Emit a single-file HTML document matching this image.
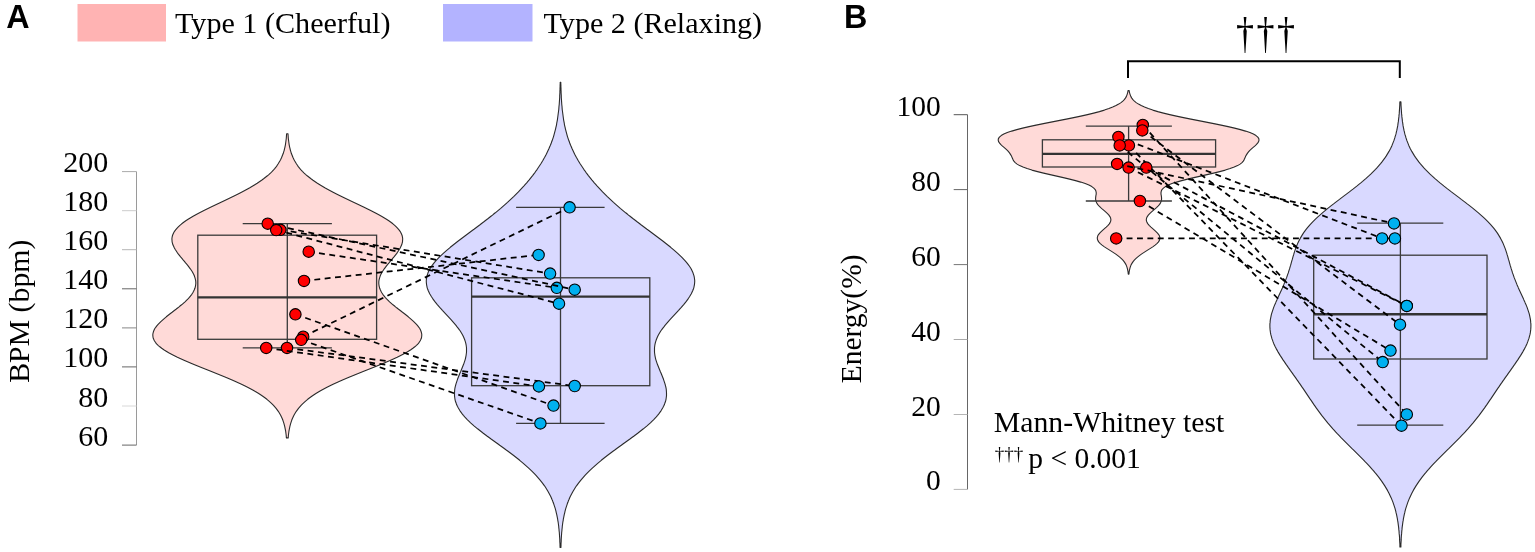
<!DOCTYPE html>
<html><head><meta charset="utf-8"><title>Figure</title>
<style>
html,body{margin:0;padding:0;background:#fff;}
svg{display:block;}
text{font-family:"Liberation Serif",serif;fill:#000;}
.b{font-family:"Liberation Sans",sans-serif;font-weight:bold;}
</style></head><body>
<svg width="1535" height="552" viewBox="0 0 1535 552">
<rect width="1535" height="552" fill="#fff"/>
<text class="b" x="6.3" y="28.4" font-size="32.3">A</text>
<text class="b" x="844" y="28.3" font-size="32.3">B</text>
<rect x="77.5" y="4" width="88.5" height="37.5" fill="#ffb3b3"/>
<rect x="443" y="4" width="89.5" height="37.5" fill="#b3b3ff"/>
<text x="175" y="33" font-size="30.15">Type 1 (Cheerful)</text>
<text x="543.6" y="33" font-size="30.1">Type 2 (Relaxing)</text>
<g stroke="#9a9a9a" stroke-width="1" fill="none">
<path d="M136.5 171.6 V445.1"/>
<path d="M122 171.6 H136.5" stroke="#aaa"/>
<path d="M122 210.7 H136.5" stroke="#ccc"/>
<path d="M122 249.7 H136.5" stroke="#b5b5b5"/>
<path d="M122 288.8 H136.5" stroke="#666"/>
<path d="M122 327.9 H136.5" stroke="#888"/>
<path d="M122 366.9 H136.5" stroke="#666"/>
<path d="M122 406.0 H136.5" stroke="#d8d8d8"/>
<path d="M122 445.1 H136.5" stroke="#666"/>
</g>
<text x="108.2" y="172.1" font-size="30" text-anchor="end">200</text>
<text x="108.2" y="211.2" font-size="30" text-anchor="end">180</text>
<text x="108.2" y="250.2" font-size="30" text-anchor="end">160</text>
<text x="108.2" y="289.3" font-size="30" text-anchor="end">140</text>
<text x="108.2" y="328.4" font-size="30" text-anchor="end">120</text>
<text x="108.2" y="367.4" font-size="30" text-anchor="end">100</text>
<text x="108.2" y="406.5" font-size="30" text-anchor="end">80</text>
<text x="108.2" y="445.6" font-size="30" text-anchor="end">60</text>
<text transform="translate(29.2 311.2) rotate(-90)" font-size="29.8" text-anchor="middle">BPM (bpm)</text>
<g stroke="#666" stroke-width="1" fill="none">
<path d="M967.5 114.7 V489.4"/>
<path d="M953.7 114.7 H967.5" stroke="#555"/>
<path d="M953.7 189.6 H967.5" stroke="#666"/>
<path d="M953.7 264.6 H967.5" stroke="#777"/>
<path d="M953.7 339.5 H967.5" stroke="#aaa"/>
<path d="M953.7 414.5 H967.5" stroke="#b5b5b5"/>
<path d="M953.7 489.4 H967.5" stroke="#b5b5b5"/>
</g>
<text x="940.8" y="115.7" font-size="29.5" text-anchor="end">100</text>
<text x="940.8" y="190.6" font-size="29.5" text-anchor="end">80</text>
<text x="940.8" y="265.6" font-size="29.5" text-anchor="end">60</text>
<text x="940.8" y="340.5" font-size="29.5" text-anchor="end">40</text>
<text x="940.8" y="415.5" font-size="29.5" text-anchor="end">20</text>
<text x="940.8" y="490.4" font-size="29.5" text-anchor="end">0</text>
<text transform="translate(860.6 383.3) rotate(-90)" font-size="29.5">Energy(%)</text>
<path d="M286.6 133.8 L286.5 135.3 L286.4 136.8 L286.3 138.3 L286.1 139.8 L285.9 141.3 L285.7 142.8 L285.5 144.3 L285.2 145.8 L284.9 147.3 L284.5 148.8 L284.2 150.3 L283.7 151.8 L283.3 153.3 L282.7 154.8 L282.1 156.3 L281.5 157.8 L280.8 159.3 L280.0 160.8 L279.1 162.3 L278.2 163.8 L277.2 165.3 L276.1 166.8 L274.9 168.3 L273.6 169.8 L272.2 171.3 L270.7 172.8 L269.1 174.3 L267.4 175.8 L265.5 177.3 L263.6 178.8 L261.6 180.3 L259.4 181.8 L257.2 183.3 L254.8 184.8 L252.3 186.3 L249.8 187.8 L247.1 189.3 L244.3 190.8 L241.5 192.3 L238.6 193.8 L235.6 195.3 L232.5 196.8 L229.4 198.3 L226.3 199.8 L223.2 201.3 L220.0 202.8 L216.8 204.3 L213.7 205.8 L210.5 207.3 L207.5 208.8 L204.4 210.3 L201.5 211.8 L198.6 213.3 L195.8 214.8 L193.1 216.3 L190.6 217.8 L188.1 219.3 L185.8 220.8 L183.7 222.3 L181.7 223.8 L179.9 225.3 L178.3 226.8 L176.9 228.3 L175.6 229.8 L174.5 231.3 L173.7 232.8 L173.0 234.3 L172.4 235.8 L172.1 237.3 L171.9 238.8 L172.0 240.3 L172.1 241.8 L172.5 243.3 L172.9 244.8 L173.6 246.3 L174.3 247.8 L175.1 249.3 L176.1 250.8 L177.1 252.3 L178.2 253.8 L179.4 255.3 L180.6 256.8 L181.9 258.3 L183.1 259.8 L184.4 261.3 L185.6 262.8 L186.9 264.3 L188.1 265.8 L189.2 267.3 L190.3 268.8 L191.3 270.3 L192.3 271.8 L193.1 273.3 L193.9 274.8 L194.5 276.3 L195.0 277.8 L195.4 279.3 L195.7 280.8 L195.8 282.3 L195.8 283.8 L195.6 285.3 L195.3 286.8 L194.9 288.3 L194.3 289.8 L193.6 291.3 L192.8 292.8 L191.8 294.3 L190.6 295.8 L189.4 297.3 L188.0 298.8 L186.5 300.3 L185.0 301.8 L183.3 303.3 L181.6 304.8 L179.7 306.3 L177.9 307.8 L176.0 309.3 L174.0 310.8 L172.1 312.3 L170.1 313.8 L168.2 315.3 L166.3 316.8 L164.5 318.3 L162.8 319.8 L161.1 321.3 L159.6 322.8 L158.1 324.3 L156.8 325.8 L155.7 327.3 L154.7 328.8 L154.0 330.3 L153.4 331.8 L153.0 333.3 L152.8 334.8 L152.9 336.3 L153.1 337.8 L153.7 339.3 L154.4 340.8 L155.4 342.3 L156.6 343.8 L158.1 345.3 L159.8 346.8 L161.7 348.3 L163.8 349.8 L166.2 351.3 L168.7 352.8 L171.5 354.3 L174.4 355.8 L177.4 357.3 L180.7 358.8 L184.0 360.3 L187.5 361.8 L191.0 363.3 L194.6 364.8 L198.3 366.3 L202.0 367.8 L205.8 369.3 L209.6 370.8 L213.3 372.3 L217.0 373.8 L220.7 375.3 L224.4 376.8 L228.0 378.3 L231.5 379.8 L234.9 381.3 L238.2 382.8 L241.5 384.3 L244.6 385.8 L247.6 387.3 L250.4 388.8 L253.2 390.3 L255.8 391.8 L258.3 393.3 L260.6 394.8 L262.8 396.3 L264.9 397.8 L266.9 399.3 L268.7 400.8 L270.4 402.3 L272.0 403.8 L273.5 405.3 L274.8 406.8 L276.1 408.3 L277.2 409.8 L278.3 411.3 L279.2 412.8 L280.1 414.3 L280.9 415.8 L281.6 417.3 L282.3 418.8 L282.9 420.3 L283.4 421.8 L283.9 423.3 L284.3 424.8 L284.7 426.3 L285.0 427.8 L285.3 429.3 L285.6 430.8 L285.8 432.3 L286.0 433.8 L286.2 435.3 L286.3 436.8 L286.4 437.9 L288.2 437.9 L288.3 436.8 L288.4 435.3 L288.6 433.8 L288.8 432.3 L289.0 430.8 L289.3 429.3 L289.6 427.8 L289.9 426.3 L290.3 424.8 L290.7 423.3 L291.2 421.8 L291.7 420.3 L292.3 418.8 L293.0 417.3 L293.7 415.8 L294.5 414.3 L295.4 412.8 L296.3 411.3 L297.4 409.8 L298.5 408.3 L299.8 406.8 L301.1 405.3 L302.6 403.8 L304.2 402.3 L305.9 400.8 L307.7 399.3 L309.7 397.8 L311.8 396.3 L314.0 394.8 L316.3 393.3 L318.8 391.8 L321.4 390.3 L324.2 388.8 L327.0 387.3 L330.0 385.8 L333.1 384.3 L336.4 382.8 L339.7 381.3 L343.1 379.8 L346.6 378.3 L350.2 376.8 L353.9 375.3 L357.6 373.8 L361.3 372.3 L365.0 370.8 L368.8 369.3 L372.6 367.8 L376.3 366.3 L380.0 364.8 L383.6 363.3 L387.1 361.8 L390.6 360.3 L393.9 358.8 L397.2 357.3 L400.2 355.8 L403.1 354.3 L405.9 352.8 L408.4 351.3 L410.8 349.8 L412.9 348.3 L414.8 346.8 L416.5 345.3 L418.0 343.8 L419.2 342.3 L420.2 340.8 L420.9 339.3 L421.5 337.8 L421.7 336.3 L421.8 334.8 L421.6 333.3 L421.2 331.8 L420.6 330.3 L419.9 328.8 L418.9 327.3 L417.8 325.8 L416.5 324.3 L415.0 322.8 L413.5 321.3 L411.8 319.8 L410.1 318.3 L408.3 316.8 L406.4 315.3 L404.5 313.8 L402.5 312.3 L400.6 310.8 L398.6 309.3 L396.7 307.8 L394.9 306.3 L393.0 304.8 L391.3 303.3 L389.6 301.8 L388.1 300.3 L386.6 298.8 L385.2 297.3 L384.0 295.8 L382.8 294.3 L381.8 292.8 L381.0 291.3 L380.3 289.8 L379.7 288.3 L379.3 286.8 L379.0 285.3 L378.8 283.8 L378.8 282.3 L378.9 280.8 L379.2 279.3 L379.6 277.8 L380.1 276.3 L380.7 274.8 L381.5 273.3 L382.3 271.8 L383.3 270.3 L384.3 268.8 L385.4 267.3 L386.5 265.8 L387.7 264.3 L389.0 262.8 L390.2 261.3 L391.5 259.8 L392.7 258.3 L394.0 256.8 L395.2 255.3 L396.4 253.8 L397.5 252.3 L398.5 250.8 L399.5 249.3 L400.3 247.8 L401.0 246.3 L401.7 244.8 L402.1 243.3 L402.5 241.8 L402.6 240.3 L402.7 238.8 L402.5 237.3 L402.2 235.8 L401.6 234.3 L400.9 232.8 L400.1 231.3 L399.0 229.8 L397.7 228.3 L396.3 226.8 L394.7 225.3 L392.9 223.8 L390.9 222.3 L388.8 220.8 L386.5 219.3 L384.0 217.8 L381.5 216.3 L378.8 214.8 L376.0 213.3 L373.1 211.8 L370.2 210.3 L367.1 208.8 L364.1 207.3 L360.9 205.8 L357.8 204.3 L354.6 202.8 L351.4 201.3 L348.3 199.8 L345.2 198.3 L342.1 196.8 L339.0 195.3 L336.0 193.8 L333.1 192.3 L330.3 190.8 L327.5 189.3 L324.8 187.8 L322.3 186.3 L319.8 184.8 L317.4 183.3 L315.2 181.8 L313.0 180.3 L311.0 178.8 L309.1 177.3 L307.2 175.8 L305.5 174.3 L303.9 172.8 L302.4 171.3 L301.0 169.8 L299.7 168.3 L298.5 166.8 L297.4 165.3 L296.4 163.8 L295.5 162.3 L294.6 160.8 L293.8 159.3 L293.1 157.8 L292.5 156.3 L291.9 154.8 L291.3 153.3 L290.9 151.8 L290.4 150.3 L290.1 148.8 L289.7 147.3 L289.4 145.8 L289.1 144.3 L288.9 142.8 L288.7 141.3 L288.5 139.8 L288.3 138.3 L288.2 136.8 L288.1 135.3 L288.0 133.8Z" fill="#ffdad8" stroke="#2b2b2b" stroke-width="1.1" stroke-linejoin="round"/>
<path d="M560.2 82.3 L560.2 83.8 L560.1 85.3 L560.1 86.8 L560.0 88.3 L560.0 89.8 L559.9 91.3 L559.9 92.8 L559.8 94.3 L559.7 95.8 L559.7 97.3 L559.6 98.8 L559.5 100.3 L559.4 101.8 L559.3 103.3 L559.2 104.8 L559.0 106.3 L558.9 107.8 L558.8 109.3 L558.6 110.8 L558.4 112.3 L558.2 113.8 L558.0 115.3 L557.8 116.8 L557.6 118.3 L557.4 119.8 L557.1 121.3 L556.8 122.8 L556.6 124.3 L556.3 125.8 L555.9 127.3 L555.6 128.8 L555.2 130.3 L554.8 131.8 L554.4 133.3 L554.0 134.8 L553.6 136.3 L553.1 137.8 L552.6 139.3 L552.1 140.8 L551.5 142.3 L551.0 143.8 L550.4 145.3 L549.7 146.8 L549.1 148.3 L548.4 149.8 L547.7 151.3 L547.0 152.8 L546.3 154.3 L545.5 155.8 L544.7 157.3 L543.8 158.8 L543.0 160.3 L542.1 161.8 L541.2 163.3 L540.2 164.8 L539.2 166.3 L538.2 167.8 L537.2 169.3 L536.1 170.8 L535.1 172.3 L533.9 173.8 L532.8 175.3 L531.6 176.8 L530.4 178.3 L529.2 179.8 L527.9 181.3 L526.7 182.8 L525.3 184.3 L524.0 185.8 L522.6 187.3 L521.2 188.8 L519.8 190.3 L518.4 191.8 L516.9 193.3 L515.4 194.8 L513.9 196.3 L512.3 197.8 L510.7 199.3 L509.1 200.8 L507.5 202.3 L505.8 203.8 L504.1 205.3 L502.4 206.8 L500.7 208.3 L498.9 209.8 L497.1 211.3 L495.3 212.8 L493.4 214.3 L491.6 215.8 L489.7 217.3 L487.8 218.8 L485.8 220.3 L483.9 221.8 L481.9 223.3 L480.0 224.8 L478.0 226.3 L476.0 227.8 L474.0 229.3 L471.9 230.8 L469.9 232.3 L467.9 233.8 L465.9 235.3 L463.9 236.8 L461.9 238.3 L459.9 239.8 L457.9 241.3 L456.0 242.8 L454.1 244.3 L452.2 245.8 L450.3 247.3 L448.5 248.8 L446.7 250.3 L445.0 251.8 L443.3 253.3 L441.7 254.8 L440.1 256.3 L438.6 257.8 L437.2 259.3 L435.8 260.8 L434.5 262.3 L433.3 263.8 L432.2 265.3 L431.2 266.8 L430.2 268.3 L429.4 269.8 L428.7 271.3 L428.0 272.8 L427.5 274.3 L427.0 275.8 L426.7 277.3 L426.5 278.8 L426.3 280.3 L426.3 281.8 L426.4 283.3 L426.6 284.8 L426.9 286.3 L427.2 287.8 L427.7 289.3 L428.3 290.8 L429.0 292.3 L429.7 293.8 L430.6 295.3 L431.5 296.8 L432.5 298.3 L433.6 299.8 L434.7 301.3 L435.9 302.8 L437.1 304.3 L438.4 305.8 L439.7 307.3 L441.1 308.8 L442.4 310.3 L443.8 311.8 L445.2 313.3 L446.6 314.8 L448.0 316.3 L449.4 317.8 L450.8 319.3 L452.1 320.8 L453.4 322.3 L454.7 323.8 L456.0 325.3 L457.1 326.8 L458.3 328.3 L459.4 329.8 L460.4 331.3 L461.3 332.8 L462.2 334.3 L463.0 335.8 L463.7 337.3 L464.3 338.8 L464.9 340.3 L465.4 341.8 L465.8 343.3 L466.1 344.8 L466.3 346.3 L466.5 347.8 L466.5 349.3 L466.5 350.8 L466.5 352.3 L466.3 353.8 L466.1 355.3 L465.8 356.8 L465.5 358.3 L465.1 359.8 L464.6 361.3 L464.1 362.8 L463.6 364.3 L463.0 365.8 L462.4 367.3 L461.8 368.8 L461.2 370.3 L460.6 371.8 L459.9 373.3 L459.3 374.8 L458.7 376.3 L458.1 377.8 L457.5 379.3 L457.0 380.8 L456.5 382.3 L456.0 383.8 L455.6 385.3 L455.2 386.8 L454.9 388.3 L454.7 389.8 L454.6 391.3 L454.5 392.8 L454.5 394.3 L454.5 395.8 L454.7 397.3 L454.9 398.8 L455.2 400.3 L455.6 401.8 L456.2 403.3 L456.7 404.8 L457.4 406.3 L458.2 407.8 L459.1 409.3 L460.0 410.8 L461.1 412.3 L462.2 413.8 L463.4 415.3 L464.7 416.8 L466.1 418.3 L467.5 419.8 L469.1 421.3 L470.6 422.8 L472.3 424.3 L474.0 425.8 L475.8 427.3 L477.6 428.8 L479.5 430.3 L481.4 431.8 L483.3 433.3 L485.3 434.8 L487.3 436.3 L489.4 437.8 L491.4 439.3 L493.5 440.8 L495.6 442.3 L497.7 443.8 L499.7 445.3 L501.8 446.8 L503.9 448.3 L505.9 449.8 L508.0 451.3 L510.0 452.8 L512.0 454.3 L514.0 455.8 L515.9 457.3 L517.8 458.8 L519.7 460.3 L521.5 461.8 L523.3 463.3 L525.0 464.8 L526.7 466.3 L528.4 467.8 L530.0 469.3 L531.6 470.8 L533.1 472.3 L534.6 473.8 L536.0 475.3 L537.3 476.8 L538.6 478.3 L539.9 479.8 L541.1 481.3 L542.3 482.8 L543.4 484.3 L544.5 485.8 L545.5 487.3 L546.4 488.8 L547.3 490.3 L548.2 491.8 L549.0 493.3 L549.8 494.8 L550.6 496.3 L551.3 497.8 L551.9 499.3 L552.6 500.8 L553.1 502.3 L553.7 503.8 L554.2 505.3 L554.7 506.8 L555.2 508.3 L555.6 509.8 L556.0 511.3 L556.3 512.8 L556.7 514.3 L557.0 515.8 L557.3 517.3 L557.6 518.8 L557.8 520.3 L558.1 521.8 L558.3 523.3 L558.5 524.8 L558.7 526.3 L558.8 527.8 L559.0 529.3 L559.1 530.8 L559.3 532.3 L559.4 533.8 L559.5 535.3 L559.6 536.8 L559.7 538.3 L559.8 539.8 L559.8 541.3 L559.9 542.8 L560.0 544.3 L560.0 545.8 L560.1 547.3 L560.1 547.5 L560.9 547.5 L560.9 547.3 L561.0 545.8 L561.0 544.3 L561.1 542.8 L561.2 541.3 L561.2 539.8 L561.3 538.3 L561.4 536.8 L561.5 535.3 L561.6 533.8 L561.7 532.3 L561.9 530.8 L562.0 529.3 L562.2 527.8 L562.3 526.3 L562.5 524.8 L562.7 523.3 L562.9 521.8 L563.2 520.3 L563.4 518.8 L563.7 517.3 L564.0 515.8 L564.3 514.3 L564.7 512.8 L565.0 511.3 L565.4 509.8 L565.8 508.3 L566.3 506.8 L566.8 505.3 L567.3 503.8 L567.9 502.3 L568.4 500.8 L569.1 499.3 L569.7 497.8 L570.4 496.3 L571.2 494.8 L572.0 493.3 L572.8 491.8 L573.7 490.3 L574.6 488.8 L575.5 487.3 L576.5 485.8 L577.6 484.3 L578.7 482.8 L579.9 481.3 L581.1 479.8 L582.4 478.3 L583.7 476.8 L585.0 475.3 L586.4 473.8 L587.9 472.3 L589.4 470.8 L591.0 469.3 L592.6 467.8 L594.3 466.3 L596.0 464.8 L597.7 463.3 L599.5 461.8 L601.3 460.3 L603.2 458.8 L605.1 457.3 L607.0 455.8 L609.0 454.3 L611.0 452.8 L613.0 451.3 L615.1 449.8 L617.1 448.3 L619.2 446.8 L621.3 445.3 L623.3 443.8 L625.4 442.3 L627.5 440.8 L629.6 439.3 L631.6 437.8 L633.7 436.3 L635.7 434.8 L637.7 433.3 L639.6 431.8 L641.5 430.3 L643.4 428.8 L645.2 427.3 L647.0 425.8 L648.7 424.3 L650.4 422.8 L651.9 421.3 L653.5 419.8 L654.9 418.3 L656.3 416.8 L657.6 415.3 L658.8 413.8 L659.9 412.3 L661.0 410.8 L661.9 409.3 L662.8 407.8 L663.6 406.3 L664.3 404.8 L664.8 403.3 L665.4 401.8 L665.8 400.3 L666.1 398.8 L666.3 397.3 L666.5 395.8 L666.5 394.3 L666.5 392.8 L666.4 391.3 L666.3 389.8 L666.1 388.3 L665.8 386.8 L665.4 385.3 L665.0 383.8 L664.5 382.3 L664.0 380.8 L663.5 379.3 L662.9 377.8 L662.3 376.3 L661.7 374.8 L661.1 373.3 L660.4 371.8 L659.8 370.3 L659.2 368.8 L658.6 367.3 L658.0 365.8 L657.4 364.3 L656.9 362.8 L656.4 361.3 L655.9 359.8 L655.5 358.3 L655.2 356.8 L654.9 355.3 L654.7 353.8 L654.5 352.3 L654.5 350.8 L654.5 349.3 L654.5 347.8 L654.7 346.3 L654.9 344.8 L655.2 343.3 L655.6 341.8 L656.1 340.3 L656.7 338.8 L657.3 337.3 L658.0 335.8 L658.8 334.3 L659.7 332.8 L660.6 331.3 L661.6 329.8 L662.7 328.3 L663.9 326.8 L665.0 325.3 L666.3 323.8 L667.6 322.3 L668.9 320.8 L670.2 319.3 L671.6 317.8 L673.0 316.3 L674.4 314.8 L675.8 313.3 L677.2 311.8 L678.6 310.3 L679.9 308.8 L681.3 307.3 L682.6 305.8 L683.9 304.3 L685.1 302.8 L686.3 301.3 L687.4 299.8 L688.5 298.3 L689.5 296.8 L690.4 295.3 L691.3 293.8 L692.0 292.3 L692.7 290.8 L693.3 289.3 L693.8 287.8 L694.1 286.3 L694.4 284.8 L694.6 283.3 L694.7 281.8 L694.7 280.3 L694.5 278.8 L694.3 277.3 L694.0 275.8 L693.5 274.3 L693.0 272.8 L692.3 271.3 L691.6 269.8 L690.8 268.3 L689.8 266.8 L688.8 265.3 L687.7 263.8 L686.5 262.3 L685.2 260.8 L683.8 259.3 L682.4 257.8 L680.9 256.3 L679.3 254.8 L677.7 253.3 L676.0 251.8 L674.3 250.3 L672.5 248.8 L670.7 247.3 L668.8 245.8 L666.9 244.3 L665.0 242.8 L663.1 241.3 L661.1 239.8 L659.1 238.3 L657.1 236.8 L655.1 235.3 L653.1 233.8 L651.1 232.3 L649.1 230.8 L647.0 229.3 L645.0 227.8 L643.0 226.3 L641.0 224.8 L639.1 223.3 L637.1 221.8 L635.2 220.3 L633.2 218.8 L631.3 217.3 L629.4 215.8 L627.6 214.3 L625.7 212.8 L623.9 211.3 L622.1 209.8 L620.3 208.3 L618.6 206.8 L616.9 205.3 L615.2 203.8 L613.5 202.3 L611.9 200.8 L610.3 199.3 L608.7 197.8 L607.1 196.3 L605.6 194.8 L604.1 193.3 L602.6 191.8 L601.2 190.3 L599.8 188.8 L598.4 187.3 L597.0 185.8 L595.7 184.3 L594.3 182.8 L593.1 181.3 L591.8 179.8 L590.6 178.3 L589.4 176.8 L588.2 175.3 L587.1 173.8 L585.9 172.3 L584.9 170.8 L583.8 169.3 L582.8 167.8 L581.8 166.3 L580.8 164.8 L579.8 163.3 L578.9 161.8 L578.0 160.3 L577.2 158.8 L576.3 157.3 L575.5 155.8 L574.7 154.3 L574.0 152.8 L573.3 151.3 L572.6 149.8 L571.9 148.3 L571.3 146.8 L570.6 145.3 L570.0 143.8 L569.5 142.3 L568.9 140.8 L568.4 139.3 L567.9 137.8 L567.4 136.3 L567.0 134.8 L566.6 133.3 L566.2 131.8 L565.8 130.3 L565.4 128.8 L565.1 127.3 L564.7 125.8 L564.4 124.3 L564.2 122.8 L563.9 121.3 L563.6 119.8 L563.4 118.3 L563.2 116.8 L563.0 115.3 L562.8 113.8 L562.6 112.3 L562.4 110.8 L562.2 109.3 L562.1 107.8 L562.0 106.3 L561.8 104.8 L561.7 103.3 L561.6 101.8 L561.5 100.3 L561.4 98.8 L561.3 97.3 L561.3 95.8 L561.2 94.3 L561.1 92.8 L561.1 91.3 L561.0 89.8 L561.0 88.3 L560.9 86.8 L560.9 85.3 L560.8 83.8 L560.8 82.3Z" fill="#d9d9ff" stroke="#2b2b2b" stroke-width="1.1" stroke-linejoin="round"/>
<g stroke="#3a3a3a" stroke-width="1.3" fill="none"><rect x="197.8" y="235.2" width="178.8" height="104.1"/><path d="M287.3 223.7 V347.9 M242.7 223.7 H331.9 M242.7 347.9 H331.9"/><path d="M197.8 297.4 H376.6" stroke-width="2.4" stroke="#333"/></g>
<g stroke="#3a3a3a" stroke-width="1.3" fill="none"><rect x="471.6" y="277.8" width="178.2" height="107.9"/><path d="M560.5 207.3 V423.4 M516.1 207.3 H604.6 M516.1 423.4 H604.6"/><path d="M471.6 296.6 H649.8" stroke-width="2.4" stroke="#333"/></g>
<path d="M308.7 251.7 L556.8 287.8" stroke="#000" stroke-width="1.75" stroke-dasharray="5.9 4.5" fill="none"/>
<circle cx="308.7" cy="251.7" r="5.7" fill="#ff0000" stroke="#000" stroke-width="1.1"/>
<circle cx="556.8" cy="287.8" r="5.7" fill="#00b0f0" stroke="#000" stroke-width="1.1"/>
<path d="M267.7 223.7 L574.7 289.7" stroke="#000" stroke-width="1.75" stroke-dasharray="5.9 4.5" fill="none"/>
<circle cx="267.7" cy="223.7" r="5.7" fill="#ff0000" stroke="#000" stroke-width="1.1"/>
<circle cx="574.7" cy="289.7" r="5.7" fill="#00b0f0" stroke="#000" stroke-width="1.1"/>
<path d="M280.4 229.8 L550.1 273.6" stroke="#000" stroke-width="1.75" stroke-dasharray="5.9 4.5" fill="none"/>
<circle cx="280.4" cy="229.8" r="5.7" fill="#ff0000" stroke="#000" stroke-width="1.1"/>
<circle cx="550.1" cy="273.6" r="5.7" fill="#00b0f0" stroke="#000" stroke-width="1.1"/>
<path d="M276.2 230.1 L559.0 303.7" stroke="#000" stroke-width="1.75" stroke-dasharray="5.9 4.5" fill="none"/>
<circle cx="276.2" cy="230.1" r="5.7" fill="#ff0000" stroke="#000" stroke-width="1.1"/>
<circle cx="559.0" cy="303.7" r="5.7" fill="#00b0f0" stroke="#000" stroke-width="1.1"/>
<path d="M304.0 280.9 L538.6 254.9" stroke="#000" stroke-width="1.75" stroke-dasharray="5.9 4.5" fill="none"/>
<circle cx="304.0" cy="280.9" r="5.7" fill="#ff0000" stroke="#000" stroke-width="1.1"/>
<circle cx="538.6" cy="254.9" r="5.7" fill="#00b0f0" stroke="#000" stroke-width="1.1"/>
<path d="M295.4 314.3 L553.5 405.6" stroke="#000" stroke-width="1.75" stroke-dasharray="5.9 4.5" fill="none"/>
<circle cx="295.4" cy="314.3" r="5.7" fill="#ff0000" stroke="#000" stroke-width="1.1"/>
<circle cx="553.5" cy="405.6" r="5.7" fill="#00b0f0" stroke="#000" stroke-width="1.1"/>
<path d="M303.2 336.7 L569.6 207.3" stroke="#000" stroke-width="1.75" stroke-dasharray="5.9 4.5" fill="none"/>
<circle cx="303.2" cy="336.7" r="5.7" fill="#ff0000" stroke="#000" stroke-width="1.1"/>
<circle cx="569.6" cy="207.3" r="5.7" fill="#00b0f0" stroke="#000" stroke-width="1.1"/>
<path d="M301.2 339.8 L540.4 423.4" stroke="#000" stroke-width="1.75" stroke-dasharray="5.9 4.5" fill="none"/>
<circle cx="301.2" cy="339.8" r="5.7" fill="#ff0000" stroke="#000" stroke-width="1.1"/>
<circle cx="540.4" cy="423.4" r="5.7" fill="#00b0f0" stroke="#000" stroke-width="1.1"/>
<path d="M287.0 347.9 L574.7 386.0" stroke="#000" stroke-width="1.75" stroke-dasharray="5.9 4.5" fill="none"/>
<circle cx="287.0" cy="347.9" r="5.7" fill="#ff0000" stroke="#000" stroke-width="1.1"/>
<circle cx="574.7" cy="386.0" r="5.7" fill="#00b0f0" stroke="#000" stroke-width="1.1"/>
<path d="M266.2 347.9 L538.9 386.4" stroke="#000" stroke-width="1.75" stroke-dasharray="5.9 4.5" fill="none"/>
<circle cx="266.2" cy="347.9" r="5.7" fill="#ff0000" stroke="#000" stroke-width="1.1"/>
<circle cx="538.9" cy="386.4" r="5.7" fill="#00b0f0" stroke="#000" stroke-width="1.1"/>
<path d="M1128.0 90.6 L1127.8 92.1 L1127.4 93.6 L1126.9 95.1 L1126.3 96.6 L1125.4 98.1 L1124.3 99.6 L1122.8 101.1 L1121.0 102.6 L1118.7 104.1 L1116.0 105.6 L1112.7 107.1 L1108.9 108.6 L1104.4 110.1 L1099.4 111.6 L1093.7 113.1 L1087.5 114.6 L1080.8 116.1 L1073.7 117.6 L1066.3 119.1 L1058.6 120.6 L1051.0 122.1 L1043.4 123.6 L1036.1 125.1 L1029.1 126.6 L1022.6 128.1 L1016.8 129.6 L1011.7 131.1 L1007.3 132.6 L1003.8 134.1 L1001.2 135.6 L999.4 137.1 L998.4 138.6 L998.2 140.1 L998.6 141.6 L999.6 143.1 L1000.9 144.6 L1002.5 146.1 L1004.3 147.6 L1006.0 149.1 L1007.6 150.6 L1008.9 152.1 L1010.0 153.6 L1010.9 155.1 L1011.7 156.6 L1012.3 158.1 L1013.0 159.6 L1013.9 161.1 L1015.2 162.6 L1017.1 164.1 L1019.6 165.6 L1023.0 167.1 L1027.1 168.6 L1031.9 170.1 L1037.5 171.6 L1043.6 173.1 L1050.1 174.6 L1056.7 176.1 L1063.3 177.6 L1069.6 179.1 L1075.5 180.6 L1080.7 182.1 L1085.2 183.6 L1088.9 185.1 L1091.8 186.6 L1093.8 188.1 L1095.2 189.6 L1095.9 191.1 L1096.2 192.6 L1096.2 194.1 L1095.9 195.6 L1095.7 197.1 L1095.6 198.6 L1095.7 200.1 L1096.1 201.6 L1096.8 203.1 L1097.8 204.6 L1099.2 206.1 L1100.7 207.6 L1102.4 209.1 L1104.2 210.6 L1105.9 212.1 L1107.5 213.6 L1108.9 215.1 L1109.9 216.6 L1110.6 218.1 L1110.9 219.6 L1110.7 221.1 L1110.1 222.6 L1109.1 224.1 L1107.8 225.6 L1106.2 227.1 L1104.5 228.6 L1102.8 230.1 L1101.2 231.6 L1099.7 233.1 L1098.5 234.6 L1097.7 236.1 L1097.3 237.6 L1097.4 239.1 L1097.9 240.6 L1098.9 242.1 L1100.3 243.6 L1102.1 245.1 L1104.1 246.6 L1106.4 248.1 L1108.8 249.6 L1111.2 251.1 L1113.5 252.6 L1115.8 254.1 L1117.8 255.6 L1119.7 257.1 L1121.4 258.6 L1122.9 260.1 L1124.1 261.6 L1125.1 263.1 L1126.0 264.6 L1126.6 266.1 L1127.1 267.6 L1127.5 269.1 L1127.8 270.6 L1128.1 272.1 L1128.2 273.6 L1128.3 274.2 L1128.9 274.2 L1129.0 273.6 L1129.1 272.1 L1129.4 270.6 L1129.7 269.1 L1130.1 267.6 L1130.6 266.1 L1131.2 264.6 L1132.1 263.1 L1133.1 261.6 L1134.3 260.1 L1135.8 258.6 L1137.5 257.1 L1139.4 255.6 L1141.4 254.1 L1143.7 252.6 L1146.0 251.1 L1148.4 249.6 L1150.8 248.1 L1153.1 246.6 L1155.1 245.1 L1156.9 243.6 L1158.3 242.1 L1159.3 240.6 L1159.8 239.1 L1159.9 237.6 L1159.5 236.1 L1158.7 234.6 L1157.5 233.1 L1156.0 231.6 L1154.4 230.1 L1152.7 228.6 L1151.0 227.1 L1149.4 225.6 L1148.1 224.1 L1147.1 222.6 L1146.5 221.1 L1146.3 219.6 L1146.6 218.1 L1147.3 216.6 L1148.3 215.1 L1149.7 213.6 L1151.3 212.1 L1153.0 210.6 L1154.8 209.1 L1156.5 207.6 L1158.0 206.1 L1159.4 204.6 L1160.4 203.1 L1161.1 201.6 L1161.5 200.1 L1161.6 198.6 L1161.5 197.1 L1161.3 195.6 L1161.0 194.1 L1161.0 192.6 L1161.3 191.1 L1162.0 189.6 L1163.4 188.1 L1165.4 186.6 L1168.3 185.1 L1172.0 183.6 L1176.5 182.1 L1181.7 180.6 L1187.6 179.1 L1193.9 177.6 L1200.5 176.1 L1207.1 174.6 L1213.6 173.1 L1219.7 171.6 L1225.3 170.1 L1230.1 168.6 L1234.2 167.1 L1237.6 165.6 L1240.1 164.1 L1242.0 162.6 L1243.3 161.1 L1244.2 159.6 L1244.9 158.1 L1245.5 156.6 L1246.3 155.1 L1247.2 153.6 L1248.3 152.1 L1249.6 150.6 L1251.2 149.1 L1252.9 147.6 L1254.7 146.1 L1256.3 144.6 L1257.6 143.1 L1258.6 141.6 L1259.0 140.1 L1258.8 138.6 L1257.8 137.1 L1256.0 135.6 L1253.4 134.1 L1249.9 132.6 L1245.5 131.1 L1240.4 129.6 L1234.6 128.1 L1228.1 126.6 L1221.1 125.1 L1213.8 123.6 L1206.2 122.1 L1198.6 120.6 L1190.9 119.1 L1183.5 117.6 L1176.4 116.1 L1169.7 114.6 L1163.5 113.1 L1157.8 111.6 L1152.8 110.1 L1148.3 108.6 L1144.5 107.1 L1141.2 105.6 L1138.5 104.1 L1136.2 102.6 L1134.4 101.1 L1132.9 99.6 L1131.8 98.1 L1130.9 96.6 L1130.3 95.1 L1129.8 93.6 L1129.4 92.1 L1129.2 90.6Z" fill="#ffdad8" stroke="#2b2b2b" stroke-width="1.1" stroke-linejoin="round"/>
<path d="M1399.9 101.9 L1399.8 103.4 L1399.8 104.9 L1399.7 106.4 L1399.6 107.9 L1399.5 109.4 L1399.4 110.9 L1399.3 112.4 L1399.2 113.9 L1399.0 115.4 L1398.9 116.9 L1398.7 118.4 L1398.5 119.9 L1398.4 121.4 L1398.1 122.9 L1397.9 124.4 L1397.7 125.9 L1397.4 127.4 L1397.1 128.9 L1396.8 130.4 L1396.4 131.9 L1396.1 133.4 L1395.7 134.9 L1395.2 136.4 L1394.8 137.9 L1394.3 139.4 L1393.8 140.9 L1393.2 142.4 L1392.6 143.9 L1392.0 145.4 L1391.3 146.9 L1390.6 148.4 L1389.8 149.9 L1389.0 151.4 L1388.1 152.9 L1387.2 154.4 L1386.3 155.9 L1385.3 157.4 L1384.2 158.9 L1383.1 160.4 L1382.0 161.9 L1380.8 163.4 L1379.5 164.9 L1378.2 166.4 L1376.9 167.9 L1375.5 169.4 L1374.0 170.9 L1372.5 172.4 L1371.0 173.9 L1369.4 175.4 L1367.7 176.9 L1366.1 178.4 L1364.3 179.9 L1362.6 181.4 L1360.8 182.9 L1358.9 184.4 L1357.1 185.9 L1355.2 187.4 L1353.3 188.9 L1351.3 190.4 L1349.4 191.9 L1347.4 193.4 L1345.4 194.9 L1343.4 196.4 L1341.4 197.9 L1339.5 199.4 L1337.5 200.9 L1335.5 202.4 L1333.6 203.9 L1331.6 205.4 L1329.7 206.9 L1327.8 208.4 L1326.0 209.9 L1324.2 211.4 L1322.4 212.9 L1320.7 214.4 L1319.0 215.9 L1317.3 217.4 L1315.7 218.9 L1314.2 220.4 L1312.7 221.9 L1311.3 223.4 L1309.9 224.9 L1308.6 226.4 L1307.3 227.9 L1306.1 229.4 L1305.0 230.9 L1303.9 232.4 L1302.9 233.9 L1302.0 235.4 L1301.1 236.9 L1300.2 238.4 L1299.4 239.9 L1298.6 241.4 L1297.9 242.9 L1297.3 244.4 L1296.7 245.9 L1296.1 247.4 L1295.5 248.9 L1295.0 250.4 L1294.5 251.9 L1294.0 253.4 L1293.6 254.9 L1293.1 256.4 L1292.7 257.9 L1292.3 259.4 L1291.8 260.9 L1291.4 262.4 L1291.0 263.9 L1290.6 265.4 L1290.1 266.9 L1289.7 268.4 L1289.2 269.9 L1288.7 271.4 L1288.3 272.9 L1287.7 274.4 L1287.2 275.9 L1286.7 277.4 L1286.1 278.9 L1285.5 280.4 L1284.9 281.9 L1284.3 283.4 L1283.7 284.9 L1283.0 286.4 L1282.4 287.9 L1281.7 289.4 L1281.0 290.9 L1280.3 292.4 L1279.6 293.9 L1278.9 295.4 L1278.2 296.9 L1277.5 298.4 L1276.9 299.9 L1276.2 301.4 L1275.6 302.9 L1274.9 304.4 L1274.3 305.9 L1273.7 307.4 L1273.2 308.9 L1272.7 310.4 L1272.2 311.9 L1271.7 313.4 L1271.3 314.9 L1271.0 316.4 L1270.7 317.9 L1270.4 319.4 L1270.2 320.9 L1270.1 322.4 L1269.9 323.9 L1269.9 325.4 L1269.9 326.9 L1270.0 328.4 L1270.1 329.9 L1270.3 331.4 L1270.5 332.9 L1270.8 334.4 L1271.2 335.9 L1271.6 337.4 L1272.0 338.9 L1272.6 340.4 L1273.1 341.9 L1273.7 343.4 L1274.4 344.9 L1275.1 346.4 L1275.9 347.9 L1276.6 349.4 L1277.5 350.9 L1278.3 352.4 L1279.2 353.9 L1280.1 355.4 L1281.1 356.9 L1282.1 358.4 L1283.0 359.9 L1284.1 361.4 L1285.1 362.9 L1286.1 364.4 L1287.2 365.9 L1288.2 367.4 L1289.3 368.9 L1290.3 370.4 L1291.4 371.9 L1292.5 373.4 L1293.5 374.9 L1294.6 376.4 L1295.7 377.9 L1296.7 379.4 L1297.8 380.9 L1298.8 382.4 L1299.9 383.9 L1300.9 385.4 L1301.9 386.9 L1303.0 388.4 L1304.0 389.9 L1305.0 391.4 L1306.0 392.9 L1307.0 394.4 L1308.0 395.9 L1309.0 397.4 L1310.0 398.9 L1311.1 400.4 L1312.1 401.9 L1313.1 403.4 L1314.1 404.9 L1315.2 406.4 L1316.2 407.9 L1317.3 409.4 L1318.4 410.9 L1319.5 412.4 L1320.6 413.9 L1321.7 415.4 L1322.9 416.9 L1324.1 418.4 L1325.3 419.9 L1326.5 421.4 L1327.7 422.9 L1329.0 424.4 L1330.3 425.9 L1331.6 427.4 L1332.9 428.9 L1334.3 430.4 L1335.6 431.9 L1337.0 433.4 L1338.5 434.9 L1339.9 436.4 L1341.3 437.9 L1342.8 439.4 L1344.3 440.9 L1345.8 442.4 L1347.3 443.9 L1348.8 445.4 L1350.3 446.9 L1351.8 448.4 L1353.4 449.9 L1354.9 451.4 L1356.4 452.9 L1357.9 454.4 L1359.4 455.9 L1360.9 457.4 L1362.4 458.9 L1363.9 460.4 L1365.3 461.9 L1366.8 463.4 L1368.2 464.9 L1369.6 466.4 L1370.9 467.9 L1372.2 469.4 L1373.6 470.9 L1374.8 472.4 L1376.1 473.9 L1377.3 475.4 L1378.5 476.9 L1379.6 478.4 L1380.7 479.9 L1381.8 481.4 L1382.8 482.9 L1383.8 484.4 L1384.8 485.9 L1385.7 487.4 L1386.6 488.9 L1387.5 490.4 L1388.3 491.9 L1389.1 493.4 L1389.8 494.9 L1390.5 496.4 L1391.2 497.9 L1391.8 499.4 L1392.4 500.9 L1393.0 502.4 L1393.5 503.9 L1394.0 505.4 L1394.5 506.9 L1395.0 508.4 L1395.4 509.9 L1395.8 511.4 L1396.1 512.9 L1396.5 514.4 L1396.8 515.9 L1397.1 517.4 L1397.4 518.9 L1397.6 520.4 L1397.9 521.9 L1398.1 523.4 L1398.3 524.9 L1398.5 526.4 L1398.7 527.9 L1398.8 529.4 L1399.0 530.9 L1399.1 532.4 L1399.2 533.9 L1399.4 535.4 L1399.5 536.9 L1399.6 538.4 L1399.6 539.9 L1399.7 541.4 L1399.8 542.9 L1399.9 544.4 L1399.9 545.9 L1399.9 546.9 L1400.9 546.9 L1400.9 545.9 L1400.9 544.4 L1401.0 542.9 L1401.1 541.4 L1401.2 539.9 L1401.2 538.4 L1401.3 536.9 L1401.4 535.4 L1401.6 533.9 L1401.7 532.4 L1401.8 530.9 L1402.0 529.4 L1402.1 527.9 L1402.3 526.4 L1402.5 524.9 L1402.7 523.4 L1402.9 521.9 L1403.2 520.4 L1403.4 518.9 L1403.7 517.4 L1404.0 515.9 L1404.3 514.4 L1404.7 512.9 L1405.0 511.4 L1405.4 509.9 L1405.8 508.4 L1406.3 506.9 L1406.8 505.4 L1407.3 503.9 L1407.8 502.4 L1408.4 500.9 L1409.0 499.4 L1409.6 497.9 L1410.3 496.4 L1411.0 494.9 L1411.7 493.4 L1412.5 491.9 L1413.3 490.4 L1414.2 488.9 L1415.1 487.4 L1416.0 485.9 L1417.0 484.4 L1418.0 482.9 L1419.0 481.4 L1420.1 479.9 L1421.2 478.4 L1422.3 476.9 L1423.5 475.4 L1424.7 473.9 L1426.0 472.4 L1427.2 470.9 L1428.6 469.4 L1429.9 467.9 L1431.2 466.4 L1432.6 464.9 L1434.0 463.4 L1435.5 461.9 L1436.9 460.4 L1438.4 458.9 L1439.9 457.4 L1441.4 455.9 L1442.9 454.4 L1444.4 452.9 L1445.9 451.4 L1447.4 449.9 L1449.0 448.4 L1450.5 446.9 L1452.0 445.4 L1453.5 443.9 L1455.0 442.4 L1456.5 440.9 L1458.0 439.4 L1459.5 437.9 L1460.9 436.4 L1462.3 434.9 L1463.8 433.4 L1465.2 431.9 L1466.5 430.4 L1467.9 428.9 L1469.2 427.4 L1470.5 425.9 L1471.8 424.4 L1473.1 422.9 L1474.3 421.4 L1475.5 419.9 L1476.7 418.4 L1477.9 416.9 L1479.1 415.4 L1480.2 413.9 L1481.3 412.4 L1482.4 410.9 L1483.5 409.4 L1484.6 407.9 L1485.6 406.4 L1486.7 404.9 L1487.7 403.4 L1488.7 401.9 L1489.7 400.4 L1490.8 398.9 L1491.8 397.4 L1492.8 395.9 L1493.8 394.4 L1494.8 392.9 L1495.8 391.4 L1496.8 389.9 L1497.8 388.4 L1498.9 386.9 L1499.9 385.4 L1500.9 383.9 L1502.0 382.4 L1503.0 380.9 L1504.1 379.4 L1505.1 377.9 L1506.2 376.4 L1507.3 374.9 L1508.3 373.4 L1509.4 371.9 L1510.5 370.4 L1511.5 368.9 L1512.6 367.4 L1513.6 365.9 L1514.7 364.4 L1515.7 362.9 L1516.7 361.4 L1517.8 359.9 L1518.7 358.4 L1519.7 356.9 L1520.7 355.4 L1521.6 353.9 L1522.5 352.4 L1523.3 350.9 L1524.2 349.4 L1524.9 347.9 L1525.7 346.4 L1526.4 344.9 L1527.1 343.4 L1527.7 341.9 L1528.2 340.4 L1528.8 338.9 L1529.2 337.4 L1529.6 335.9 L1530.0 334.4 L1530.3 332.9 L1530.5 331.4 L1530.7 329.9 L1530.8 328.4 L1530.9 326.9 L1530.9 325.4 L1530.9 323.9 L1530.7 322.4 L1530.6 320.9 L1530.4 319.4 L1530.1 317.9 L1529.8 316.4 L1529.5 314.9 L1529.1 313.4 L1528.6 311.9 L1528.1 310.4 L1527.6 308.9 L1527.1 307.4 L1526.5 305.9 L1525.9 304.4 L1525.2 302.9 L1524.6 301.4 L1523.9 299.9 L1523.3 298.4 L1522.6 296.9 L1521.9 295.4 L1521.2 293.9 L1520.5 292.4 L1519.8 290.9 L1519.1 289.4 L1518.4 287.9 L1517.8 286.4 L1517.1 284.9 L1516.5 283.4 L1515.9 281.9 L1515.3 280.4 L1514.7 278.9 L1514.1 277.4 L1513.6 275.9 L1513.1 274.4 L1512.5 272.9 L1512.1 271.4 L1511.6 269.9 L1511.1 268.4 L1510.7 266.9 L1510.2 265.4 L1509.8 263.9 L1509.4 262.4 L1509.0 260.9 L1508.5 259.4 L1508.1 257.9 L1507.7 256.4 L1507.2 254.9 L1506.8 253.4 L1506.3 251.9 L1505.8 250.4 L1505.3 248.9 L1504.7 247.4 L1504.1 245.9 L1503.5 244.4 L1502.9 242.9 L1502.2 241.4 L1501.4 239.9 L1500.6 238.4 L1499.7 236.9 L1498.8 235.4 L1497.9 233.9 L1496.9 232.4 L1495.8 230.9 L1494.7 229.4 L1493.5 227.9 L1492.2 226.4 L1490.9 224.9 L1489.5 223.4 L1488.1 221.9 L1486.6 220.4 L1485.1 218.9 L1483.5 217.4 L1481.8 215.9 L1480.1 214.4 L1478.4 212.9 L1476.6 211.4 L1474.8 209.9 L1473.0 208.4 L1471.1 206.9 L1469.2 205.4 L1467.2 203.9 L1465.3 202.4 L1463.3 200.9 L1461.3 199.4 L1459.4 197.9 L1457.4 196.4 L1455.4 194.9 L1453.4 193.4 L1451.4 191.9 L1449.5 190.4 L1447.5 188.9 L1445.6 187.4 L1443.7 185.9 L1441.9 184.4 L1440.0 182.9 L1438.2 181.4 L1436.5 179.9 L1434.7 178.4 L1433.1 176.9 L1431.4 175.4 L1429.8 173.9 L1428.3 172.4 L1426.8 170.9 L1425.3 169.4 L1423.9 167.9 L1422.6 166.4 L1421.3 164.9 L1420.0 163.4 L1418.8 161.9 L1417.7 160.4 L1416.6 158.9 L1415.5 157.4 L1414.5 155.9 L1413.6 154.4 L1412.7 152.9 L1411.8 151.4 L1411.0 149.9 L1410.2 148.4 L1409.5 146.9 L1408.8 145.4 L1408.2 143.9 L1407.6 142.4 L1407.0 140.9 L1406.5 139.4 L1406.0 137.9 L1405.6 136.4 L1405.1 134.9 L1404.7 133.4 L1404.4 131.9 L1404.0 130.4 L1403.7 128.9 L1403.4 127.4 L1403.1 125.9 L1402.9 124.4 L1402.7 122.9 L1402.4 121.4 L1402.3 119.9 L1402.1 118.4 L1401.9 116.9 L1401.8 115.4 L1401.6 113.9 L1401.5 112.4 L1401.4 110.9 L1401.3 109.4 L1401.2 107.9 L1401.1 106.4 L1401.0 104.9 L1401.0 103.4 L1400.9 101.9Z" fill="#d9d9ff" stroke="#2b2b2b" stroke-width="1.1" stroke-linejoin="round"/>
<g stroke="#3a3a3a" stroke-width="1.3" fill="none"><rect x="1042.4" y="139.8" width="173.2" height="27.2"/><path d="M1128.6 126.2 V201.0 M1085.8 126.2 H1171.9 M1085.8 201.0 H1171.9"/><path d="M1042.4 153.9 H1215.6" stroke-width="2.4" stroke="#333"/></g>
<g stroke="#3a3a3a" stroke-width="1.3" fill="none"><rect x="1313.7" y="255.2" width="173.3" height="103.8"/><path d="M1400.4 223.2 V425.1 M1357.2 223.2 H1443.3 M1357.2 425.1 H1443.3"/><path d="M1313.7 314.3 H1487.0" stroke-width="2.4" stroke="#333"/></g>
<path d="M1116.2 238.4 L1394.9 238.4" stroke="#000" stroke-width="1.75" stroke-dasharray="5.9 4.5" fill="none"/>
<circle cx="1116.2" cy="238.4" r="5.7" fill="#ff0000" stroke="#000" stroke-width="1.1"/>
<circle cx="1394.9" cy="238.4" r="5.7" fill="#00b0f0" stroke="#000" stroke-width="1.1"/>
<path d="M1118.4 136.9 L1382.1 238.4" stroke="#000" stroke-width="1.75" stroke-dasharray="5.9 4.5" fill="none"/>
<circle cx="1118.4" cy="136.9" r="5.7" fill="#ff0000" stroke="#000" stroke-width="1.1"/>
<circle cx="1382.1" cy="238.4" r="5.7" fill="#00b0f0" stroke="#000" stroke-width="1.1"/>
<path d="M1142.8 125.0 L1406.8 414.4" stroke="#000" stroke-width="1.75" stroke-dasharray="5.9 4.5" fill="none"/>
<circle cx="1142.8" cy="125.0" r="5.7" fill="#ff0000" stroke="#000" stroke-width="1.1"/>
<circle cx="1406.8" cy="414.4" r="5.7" fill="#00b0f0" stroke="#000" stroke-width="1.1"/>
<path d="M1142.3 130.4 L1400.0 324.7" stroke="#000" stroke-width="1.75" stroke-dasharray="5.9 4.5" fill="none"/>
<circle cx="1142.3" cy="130.4" r="5.7" fill="#ff0000" stroke="#000" stroke-width="1.1"/>
<circle cx="1400.0" cy="324.7" r="5.7" fill="#00b0f0" stroke="#000" stroke-width="1.1"/>
<path d="M1128.9 145.4 L1401.5 425.7" stroke="#000" stroke-width="1.75" stroke-dasharray="5.9 4.5" fill="none"/>
<circle cx="1128.9" cy="145.4" r="5.7" fill="#ff0000" stroke="#000" stroke-width="1.1"/>
<circle cx="1401.5" cy="425.7" r="5.7" fill="#00b0f0" stroke="#000" stroke-width="1.1"/>
<path d="M1119.7 145.4 L1382.7 362.1" stroke="#000" stroke-width="1.75" stroke-dasharray="5.9 4.5" fill="none"/>
<circle cx="1119.7" cy="145.4" r="5.7" fill="#ff0000" stroke="#000" stroke-width="1.1"/>
<circle cx="1382.7" cy="362.1" r="5.7" fill="#00b0f0" stroke="#000" stroke-width="1.1"/>
<path d="M1128.6 167.6 L1406.8 305.9" stroke="#000" stroke-width="1.75" stroke-dasharray="5.9 4.5" fill="none"/>
<circle cx="1128.6" cy="167.6" r="5.7" fill="#ff0000" stroke="#000" stroke-width="1.1"/>
<circle cx="1406.8" cy="305.9" r="5.7" fill="#00b0f0" stroke="#000" stroke-width="1.1"/>
<path d="M1146.3 167.6 L1406.8 305.9" stroke="#000" stroke-width="1.75" stroke-dasharray="5.9 4.5" fill="none"/>
<circle cx="1146.3" cy="167.6" r="5.7" fill="#ff0000" stroke="#000" stroke-width="1.1"/>
<circle cx="1406.8" cy="305.9" r="5.7" fill="#00b0f0" stroke="#000" stroke-width="1.1"/>
<path d="M1117.1 163.9 L1394.0 223.4" stroke="#000" stroke-width="1.75" stroke-dasharray="5.9 4.5" fill="none"/>
<circle cx="1117.1" cy="163.9" r="5.7" fill="#ff0000" stroke="#000" stroke-width="1.1"/>
<circle cx="1394.0" cy="223.4" r="5.7" fill="#00b0f0" stroke="#000" stroke-width="1.1"/>
<path d="M1139.9 201.0 L1390.5 350.6" stroke="#000" stroke-width="1.75" stroke-dasharray="5.9 4.5" fill="none"/>
<circle cx="1139.9" cy="201.0" r="5.7" fill="#ff0000" stroke="#000" stroke-width="1.1"/>
<circle cx="1390.5" cy="350.6" r="5.7" fill="#00b0f0" stroke="#000" stroke-width="1.1"/>
<path d="M1128 78 V61.2 H1399.8 V78" stroke="#000" stroke-width="2" fill="none"/>
<text transform="translate(1245.0 47.5) scale(0.88 1.09)" font-size="41" text-anchor="middle">†</text>
<text transform="translate(1265.5 47.5) scale(0.88 1.09)" font-size="41" text-anchor="middle">†</text>
<text transform="translate(1286.0 47.5) scale(0.88 1.09)" font-size="41" text-anchor="middle">†</text>
<text x="993.8" y="431.5" font-size="29.75">Mann-Whitney test</text>
<text x="994.8" y="459.6" font-size="19">†††</text>
<text x="1140.8" y="467.6" font-size="29.5" text-anchor="end">p &lt; 0.001</text>
</svg></body></html>
